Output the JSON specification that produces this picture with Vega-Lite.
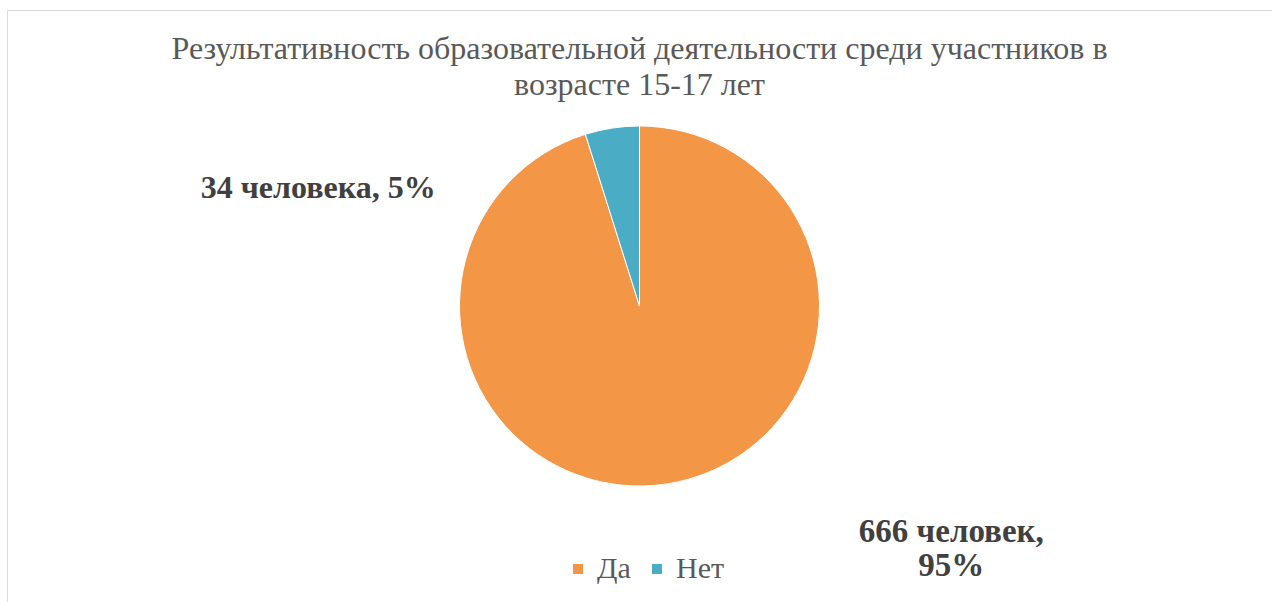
{
  "$schema": "https://vega.github.io/schema/vega-lite/v6.json",
  "width": 1265,
  "height": 592,
  "autosize": {"type": "none"},
  "padding": {"left": 7, "top": 10, "right": 0, "bottom": 0},
  "background": "white",
  "view": {"stroke": "#d9d9d9", "strokeWidth": 1},
  "config": {"view": {"stroke": "#d9d9d9", "strokeWidth": 1}},
  "title": {
    "text": ["Результативность образовательной деятельности среди участников в", "возрасте 15-17 лет"],
    "font": "Liberation Serif",
    "fontSize": 32,
    "fontWeight": "normal",
    "color": "#595959",
    "lineHeight": 36,
    "anchor": "middle",
    "frame": "group",
    "baseline": "top",
    "offset": -92
  },
  "data": {
    "values": [
      {"answer": "Да", "count": 666, "label": "666 человек,\n95%", "order": 1},
      {"answer": "Нет", "count": 34, "label": "34 человека, 5%", "order": 2}
    ]
  },
  "encoding": {
    "theta": {"field": "count", "type": "quantitative", "stack": true},
    "order": {"field": "order", "type": "quantitative"}
  },
  "layer": [
    {
      "mark": {"type": "arc", "radius": 180, "stroke": "white", "strokeWidth": 1},
      "encoding": {
        "color": {
          "field": "answer",
          "type": "nominal",
          "scale": {"domain": ["Да", "Нет"], "range": ["#F39646", "#4BACC6"]},
          "legend": {
            "title": null,
            "orient": "none",
            "direction": "horizontal",
            "legendX": 556,
            "legendY": 544,
            "padding": 0,
            "symbolType": "square",
            "symbolSize": 100,
            "symbolStrokeWidth": 0,
            "labelFont": "Liberation Serif",
            "labelFontSize": 30,
            "labelColor": "#595959",
            "labelOffset": 4,
            "columnPadding": 11
          }
        }
      }
    },
    {
      "mark": {"type": "text", "radius": 170, "align": "right", "baseline": "middle", "dx": -178, "dy": 50, "font": "Liberation Serif", "fontSize": 32, "fontWeight": "bold", "color": "#404040"},
      "encoding": {
        "text": {"condition": {"test": "datum.answer === 'Нет'", "field": "label"}, "value": ""}
      }
    },
    {
      "mark": {"type": "text", "radius": 170, "align": "center", "baseline": "middle", "dx": 286, "dy": 58, "lineBreak": "\n", "lineHeight": 34, "font": "Liberation Serif", "fontSize": 33, "fontWeight": "bold", "color": "#404040"},
      "encoding": {
        "text": {"condition": {"test": "datum.answer === 'Да'", "field": "label"}, "value": ""}
      }
    }
  ]
}
